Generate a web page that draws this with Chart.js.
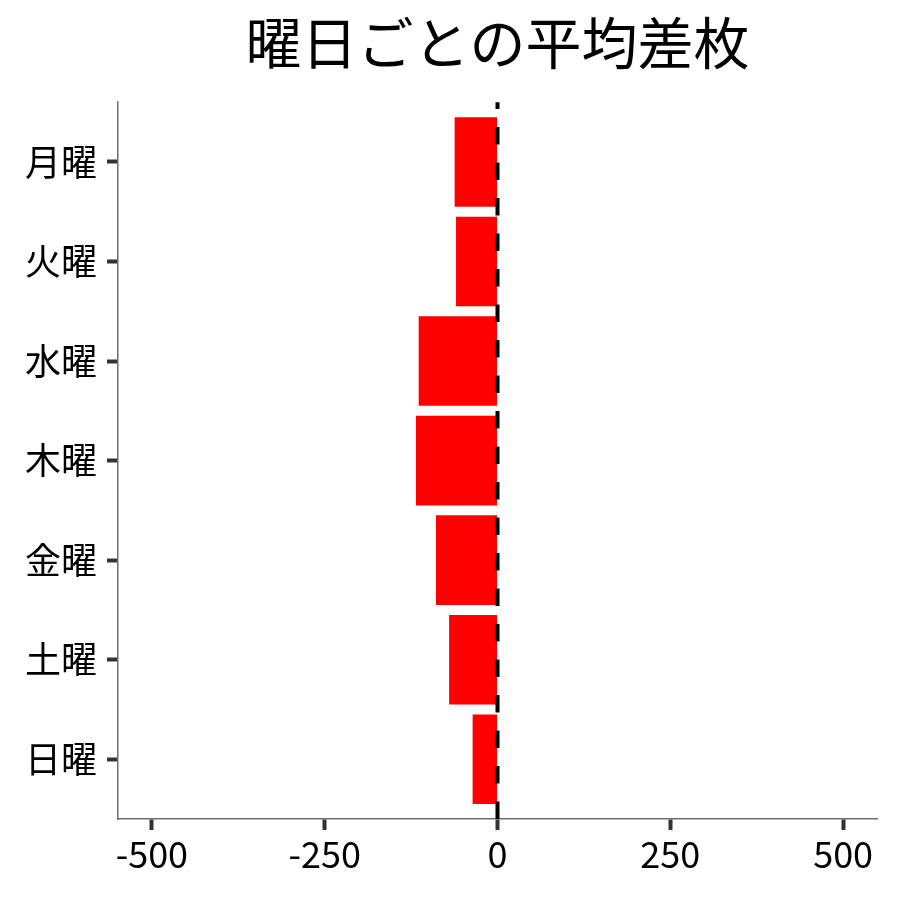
<!DOCTYPE html>
<html>
<head>
<meta charset="utf-8">
<script src="https://cdn.jsdelivr.net/npm/chart.js@4/dist/chart.umd.min.js"></script>
<style>
  html, body { margin: 0; padding: 0; background: #fff; }
  #wrap { width: 900px; height: 900px; }
</style>
</head>
<body>
<div id="wrap"><canvas id="myChart" width="900" height="900"></canvas></div>
<script>
// data
const days = ["月曜", "火曜", "水曜", "木曜", "金曜", "土曜", "日曜"];
const avgDiff = [-62, -60, -114, -118, -89, -70, -36];
const xTicks = [-500, -250, 0, 250, 500];

const FONT = "'Noto Sans CJK JP', 'Noto Sans', sans-serif";

// dashed reference line at x = 0
const zeroLine = {
  id: "zeroLine",
  afterDatasetsDraw(chart) {
    const ctx = chart.ctx;
    const area = chart.chartArea;
    const x = chart.scales.x.getPixelForValue(0);
    ctx.save();
    ctx.beginPath();
    ctx.setLineDash([17.5, 18]);
    ctx.lineWidth = 4;
    ctx.strokeStyle = "#000";
    ctx.moveTo(x, area.bottom);
    ctx.lineTo(x, area.top);
    ctx.stroke();
    ctx.restore();
  }
};

const points = days.map((d, i) => ({ x: avgDiff[i], y: i + 1 }));

new Chart(document.getElementById("myChart").getContext("2d"), {
  type: "bar",
  data: {
    datasets: [{
      data: points,
      backgroundColor: "#ff0000",
      borderWidth: 0,
      barPercentage: 0.9,
      categoryPercentage: 1
    }]
  },
  options: {
    indexAxis: "y",
    responsive: false,
    animation: false,
    layout: { padding: { left: 0, right: 23, top: 0, bottom: 0 } },
    plugins: {
      legend: { display: false },
      tooltip: { enabled: false },
      title: {
        display: true,
        fullSize: false,
        text: "曜日ごとの平均差枚",
        color: "#000",
        font: { family: FONT, size: 56, weight: "normal", lineHeight: 1.2 },
        padding: { top: 9, bottom: 26 }
      }
    },
    scales: {
      x: {
        type: "linear",
        min: -549,
        max: 549,
        afterBuildTicks: (s) => { s.ticks = xTicks.map(v => ({ value: v })); },
        afterFit: (s) => { s.height = 81; },
        border: { display: true, color: "#6e6e6e", width: 1.5 },
        grid: { drawOnChartArea: false, drawTicks: true, tickLength: 11, tickWidth: 4, tickColor: "#333" },
        ticks: { color: "#000", font: { family: FONT, size: 36 }, padding: 3, maxRotation: 0 }
      },
      y: {
        type: "linear",
        reverse: true,
        offset: false,
        min: 0.4,
        max: 7.6,
        afterBuildTicks: (s) => { s.ticks = days.map((d, i) => ({ value: i + 1 })); },
        afterFit: (s) => { s.width = 118; },
        border: { display: true, color: "#6e6e6e", width: 1.5 },
        grid: { offset: false, drawOnChartArea: false, drawTicks: true, tickLength: 11, tickWidth: 4, tickColor: "#333" },
        ticks: {
          color: "#000",
          font: { family: FONT, size: 36 },
          padding: 10,
          callback: (v) => days[v - 1]
        }
      }
    }
  },
  plugins: [zeroLine]
});
</script>
</body>
</html>
